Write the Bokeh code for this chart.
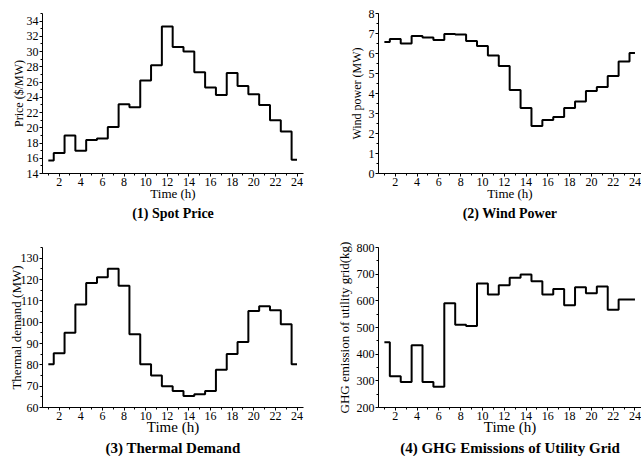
from bokeh.plotting import figure
from bokeh.layouts import column, row
from bokeh.models import Range1d, Title, FixedTicker
from bokeh.embed import file_html
from bokeh.resources import INLINE

hours = list(range(1, 25))
spot_price = [15.7, 16.7, 19.0, 17.0, 18.4, 18.6, 20.1, 23.1, 22.7, 26.2, 28.2, 33.3,
              30.6, 30.0, 27.3, 25.3, 24.3, 27.2, 25.5, 24.4, 23.0, 21.0, 19.5, 15.8]
wind_power = [6.57, 6.72, 6.5, 6.88, 6.8, 6.67, 6.97, 6.95, 6.63, 6.38, 5.9, 5.37,
              4.18, 3.27, 2.38, 2.67, 2.83, 3.27, 3.6, 4.12, 4.33, 4.88, 5.6, 6.03]
thermal_demand = [80.3, 85.4, 95.0, 108.3, 118.4, 121.0, 125.0, 117.1, 94.3, 80.3, 75.0, 70.0,
                  67.7, 65.4, 66.2, 67.7, 77.7, 85.1, 90.7, 105.2, 107.5, 105.6, 99.0, 80.3]
ghg_emission = [445, 317, 296, 433, 296, 278, 591, 510, 506, 665, 624, 658,
                687, 699, 673, 624, 644, 583, 651, 628, 654, 567, 605, 605]
x_ticks = list(range(2, 25, 2))

FONT = "Liberation Serif"


def make(x, y, ylabel, title, yr, yticks, width, height, borders, xr,
         lab_size, title_size, xlab_size, xlab_standoff, ylab_standoff):
    left, right, top, bottom = borders
    p = figure(width=width, height=height, output_backend="svg", toolbar_location=None,
               x_range=Range1d(*xr), y_range=Range1d(*yr),
               min_border_left=left, min_border_right=right,
               min_border_top=top, min_border_bottom=bottom)
    p.step(x, y, mode="center", line_width=2, line_color="black")
    p.grid.visible = False
    p.outline_line_color = None
    p.background_fill_color = "white"
    p.border_fill_color = "white"
    for ax in (p.xaxis[0], p.yaxis[0]):
        ax.axis_line_color = "black"
        ax.axis_line_width = 1
        ax.major_tick_line_color = "black"
        ax.minor_tick_line_color = "black"
        ax.major_tick_in = 0
        ax.major_tick_out = 3
        ax.minor_tick_in = 0
        ax.minor_tick_out = 2
        ax.major_label_text_font = FONT
        ax.major_label_text_font_size = "12px"
        ax.major_label_text_color = "black"
        ax.axis_label_text_font = FONT
        ax.axis_label_text_font_style = "normal"
        ax.axis_label_text_color = "black"
        ax.major_label_standoff = 1
    p.xaxis[0].axis_label_standoff = xlab_standoff
    p.yaxis[0].axis_label_standoff = ylab_standoff
    p.xaxis[0].ticker = FixedTicker(ticks=x_ticks, minor_ticks=list(range(1, 25)))
    step = (yticks[1] - yticks[0]) / 2
    p.yaxis[0].ticker = FixedTicker(ticks=yticks,
                                    minor_ticks=[yticks[0] + step * i for i in range(0, 2 * len(yticks) + 1)])
    p.xaxis[0].axis_label = "Time (h)"
    p.xaxis[0].axis_label_text_font_size = xlab_size
    p.yaxis[0].axis_label = ylabel
    p.yaxis[0].axis_label_text_font_size = lab_size
    p.add_layout(Title(text=title, align="center", text_font=FONT, text_font_size=title_size,
                       text_font_style="bold", text_color="black", standoff=0, offset=0), "below")
    return p


p1 = make(hours, spot_price, "Price ($/MW)", "(1) Spot Price", (14, 35), list(range(14, 35, 2)),
          320, 225, (42, 17, 13, 51), (0.46, 24.6), "12px", "14px", "13px", -3, -2)
p2 = make(hours, wind_power, "Wind power (MW)", "(2) Wind Power", (0, 8), list(range(0, 9)),
          321, 225, (58, 0, 13, 52), (0.46, 24.6), "12px", "14px", "13px", -3, 2)
p3 = make(hours, thermal_demand, "Thermal demand (MW)", "(3) Thermal Demand", (60, 135),
          list(range(60, 131, 10)), 320, 231, (42, 17, 21, 49), (0.46, 24.6), "13px", "15px", "15px", -4, -6)
p4 = make(hours, ghg_emission, "GHG emission of utility grid(kg)", "(4) GHG Emissions of Utility Grid",
          (200, 800), list(range(200, 801, 100)), 321, 231, (58, 0, 22, 49), (0.46, 24.6), "13px", "15px", "15px", -4, 2)

layout = column(row(p1, p2, spacing=0), row(p3, p4, spacing=0), spacing=0)

open("out.html", "w").write(file_html(layout, INLINE))
